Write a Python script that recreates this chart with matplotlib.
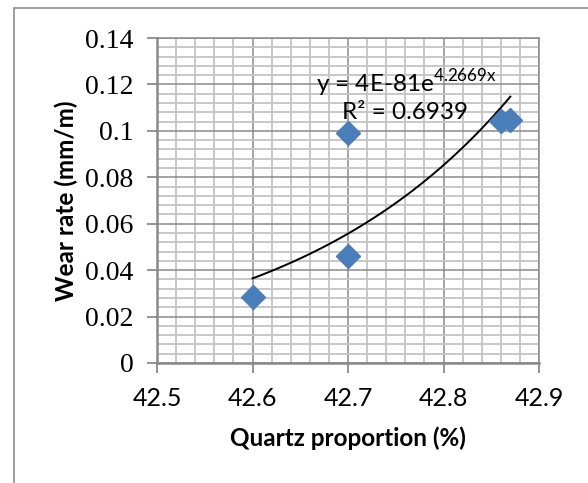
import numpy as np
import matplotlib
matplotlib.use('Agg')
import matplotlib.pyplot as plt
from matplotlib.patches import Rectangle
from matplotlib.ticker import MultipleLocator

plt.rcParams['mathtext.fontset'] = 'custom'
plt.rcParams['mathtext.rm'] = 'Lato'

# data
quartz = [42.6, 42.7, 42.7, 42.86, 42.87]
wear = [0.0286, 0.0462, 0.099, 0.1042, 0.1047]
eq_text = r'y = 4E-81e$^{\mathrm{4.2669x}}$'
r2_text = 'R² = 0.6939'

# exponential trendline (least squares on log y, like Excel)
b, a = np.polyfit(quartz, np.log(wear), 1)
xs = np.linspace(min(quartz), max(quartz), 100)
ys = np.exp(a) * np.exp(b * xs)

fig = plt.figure(figsize=(5.88, 4.83), dpi=100)
ax = fig.add_axes([157/588, 1-363/483, (539-157)/588, (363-38)/483])

# chart area border
fig.patches.append(Rectangle((14/588, -0.1), 1.2, 1.1 - 8/483,
                             transform=fig.transFigure, fill=False,
                             edgecolor='#8c8c8c', linewidth=1.2))

ax.set_xlim(42.5, 42.9)
ax.set_ylim(0, 0.14)
ax.xaxis.set_major_locator(MultipleLocator(0.1))
ax.xaxis.set_minor_locator(MultipleLocator(0.02))
ax.yaxis.set_major_locator(MultipleLocator(0.02))
ax.yaxis.set_minor_locator(MultipleLocator(0.004))
ax.grid(which='minor', color='#c4c4c4', linewidth=1.3)
ax.grid(which='major', color='#8a8a8a', linewidth=1.1)
ax.set_axisbelow(True)

ax.plot(xs, ys, color='black', linewidth=1.4, zorder=3)
ax.plot(quartz, wear, linestyle='none', marker='D', markersize=12,
        color='#4a7ebb', markeredgecolor='#4a7ebb', zorder=4)

ax.text(42.667, 0.1206, eq_text, fontsize=17.5, family='Lato', va='center')
ax.text(42.694, 0.1077, r2_text, fontsize=17.5, family='Lato', va='center')

for s in ['top', 'right']:
    ax.spines[s].set_color('#8a8a8a')
    ax.spines[s].set_linewidth(1.1)
for s in ['left', 'bottom']:
    ax.spines[s].set_color('#8a8a8a')
    ax.spines[s].set_linewidth(1.8)

ax.tick_params(which='major', length=7, width=1.3, color='#8a8a8a', direction='out')
ax.tick_params(which='minor', length=0)
ax.set_yticks([0, 0.02, 0.04, 0.06, 0.08, 0.1, 0.12, 0.14])
ax.set_yticklabels(['0', '0.02', '0.04', '0.06', '0.08', '0.1', '0.12', '0.14'],
                   family='Liberation Serif', fontsize=20)
ax.set_xticks([42.5, 42.6, 42.7, 42.8, 42.9])
ax.set_xticklabels(['42.5', '42.6', '42.7', '42.8', '42.9'], family='Lato', fontsize=18)
ax.tick_params(axis='x', pad=10)
ax.tick_params(axis='y', pad=10)

ax.set_xlabel('Quartz proportion (%)', family='Lato', fontweight='bold', fontsize=17.5)
ax.xaxis.set_label_coords(0.5, -0.23)
ax.xaxis.label.set_va('center')
ax.set_ylabel('Wear rate (mm/m)', family='Lato', fontweight='bold', fontsize=17.5)
ax.yaxis.set_label_coords(-0.238, 0.5)
ax.yaxis.label.set_va('center')

fig.savefig('out.png', dpi=100)
